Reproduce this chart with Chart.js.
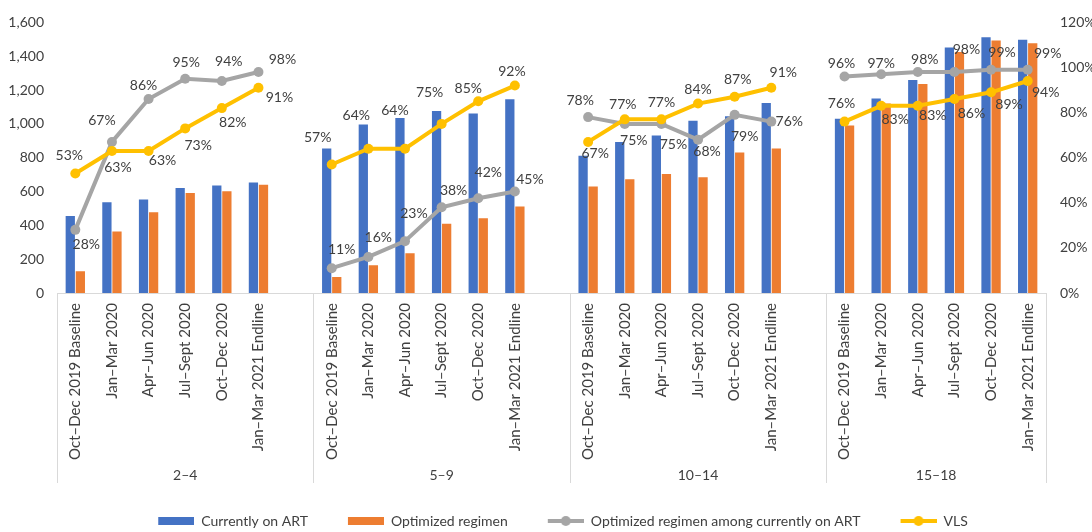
<!DOCTYPE html>
<html><head><meta charset="utf-8">
<script src="https://cdn.jsdelivr.net/npm/chart.js@4/dist/chart.umd.min.js"></script>
<style>html,body{margin:0;padding:0;background:#fff;}#wrap{width:1092px;height:532px;position:relative;}</style>
</head><body><div id="wrap"><canvas id="c"></canvas></div>
<script>
// ---- data ----
const groups = ['2–4', '5–9', '10–14', '15–18'];
const periods = ['Oct–Dec 2019 Baseline', 'Jan–Mar 2020', 'Apr–Jun 2020', 'Jul–Sept 2020', 'Oct–Dec 2020', 'Jan–Mar 2021 Endline'];
const currentlyOnART = [455, 537, 553, 621, 636, 654,  854, 997, 1034, 1076, 1061, 1146,  812, 893, 932, 1018, 1045, 1123,  1030, 1150, 1259, 1452, 1512, 1497];
const optimizedRegimen = [128, 364, 477, 592, 601, 640,  95, 164, 235, 409, 442, 512,  629, 673, 703, 685, 831, 854,  991, 1120, 1236, 1425, 1493, 1477];
const optimizedAmongART = [28, 67, 86, 95, 94, 98,  11, 16, 23, 38, 42, 45,  78, 75, 75, 68, 79, 76,  96, 97, 98, 98, 99, 99];
const vls = [53, 63, 63, 73, 82, 91,  57, 64, 64, 75, 85, 92,  67, 77, 77, 84, 87, 91,  76, 83, 83, 86, 89, 94];
const leftTicks = [0, 200, 400, 600, 800, 1000, 1200, 1400, 1600];
const rightTicks = [0, 20, 40, 60, 80, 100, 120];

// ---- label placement (style, offsets from point in px) ----
const grayLabelOffsets = [[11,15],[-10,-21],[-5,-14],[1,-16],[7,-20],[24,-13], [10,-19],[10,-19],[9,-28],[12,-17],[10,-26],[15,-12], [-8,-17],[9,17],[12,21],[9,12],[10,22],[18,0], [-3,-13],[0,-11],[7,-13],[12,-23],[11,-17],[20,-16]];
const vlsLabelOffsets = [[-6,-18],[6,17],[14,10],[13,17],[11,14],[21,10], [-14,-27],[-12,-33],[-10,-38],[-12,-31],[-10,-13],[-3,-14], [7,12],[-2,-15],[0,-17],[0,-14],[3,-17],[12,-15], [-3,-18],[14,14],[15,10],[17,14],[18,12],[18,11]];

// build category axis with a blank slot after each group (except last)
const labels = [];
function expand(arr) {
  const out = [];
  groups.forEach((g, gi) => {
    periods.forEach((p, pi) => out.push(arr[gi * periods.length + pi]));
    if (gi < groups.length - 1) out.push(null);
  });
  return out;
}
groups.forEach((g, gi) => {
  periods.forEach(p => labels.push(p));
  if (gi < groups.length - 1) labels.push('');
});

const FONT = 'Lato';
const TXT = '#404040';
const C_BLUE = '#4472C4', C_ORANGE = '#ED7D31', C_GRAY = '#A5A5A5', C_YEL = '#FFC000';

function legendImg(kind, color) {
  const W = 70, H = 14;
  const c = document.createElement('canvas');
  c.width = W; c.height = H;
  const g = c.getContext('2d');
  const x0 = W - 36;
  if (kind === 'bar') {
    g.fillStyle = color; g.fillRect(x0, 3, 36, 8);
  } else {
    g.strokeStyle = color; g.lineWidth = 4;
    g.beginPath(); g.moveTo(x0, 7); g.lineTo(W, 7); g.stroke();
    g.fillStyle = color; g.beginPath(); g.arc(x0 + 18, 7, 5, 0, Math.PI * 2); g.fill();
  }
  return c;
}
const legendImgs = [legendImg('bar', C_BLUE), legendImg('bar', C_ORANGE), legendImg('line', C_GRAY), legendImg('line', C_YEL)];

const offsetsByDataset = {2: expand(grayLabelOffsets), 3: expand(vlsLabelOffsets)};

const dataLabelPlugin = {
  id: 'dataLabels',
  afterDatasetsDraw(chart) {
    const ctx = chart.ctx;
    ctx.save();
    ctx.font = '14px ' + FONT;
    ctx.fillStyle = TXT;
    ctx.textAlign = 'center';
    ctx.textBaseline = 'middle';
    [2, 3].forEach(di => {
      const meta = chart.getDatasetMeta(di);
      const ds = chart.data.datasets[di];
      meta.data.forEach((pt, i) => {
        const v = ds.data[i];
        if (v === null || v === undefined) return;
        const off = offsetsByDataset[di][i];
        ctx.fillText(v + '%', pt.x + off[0], pt.y + off[1]);
      });
    });
    ctx.restore();
  }
};

const groupPlugin = {
  id: 'groupAxis',
  afterDraw(chart) {
    const x = chart.scales.x;
    const ctx = chart.ctx;
    const half = (x.getPixelForValue(1) - x.getPixelForValue(0)) / 2;
    const top = chart.chartArea.bottom;
    const bottom = top + 190;
    const per = periods.length + 1;
    const bounds = [];
    groups.forEach((g, gi) => bounds.push(x.getPixelForValue(gi * per) - half));
    bounds.push(x.getPixelForValue(labels.length - 1) + half);
    ctx.save();
    ctx.strokeStyle = '#d9d9d9';
    ctx.lineWidth = 1;
    bounds.forEach(b => {
      const bx = Math.round(b) + 0.5;
      ctx.beginPath(); ctx.moveTo(bx, top); ctx.lineTo(bx, bottom); ctx.stroke();
    });
    ctx.font = '14px ' + FONT;
    ctx.fillStyle = TXT;
    ctx.textAlign = 'center';
    ctx.textBaseline = 'middle';
    groups.forEach((g, gi) => {
      ctx.fillText(g, (bounds[gi] + bounds[gi + 1]) / 2, top + 182);
    });
    ctx.restore();
  }
};

new Chart(document.getElementById('c'), {
  data: {
    labels: labels,
    datasets: [
      {type: 'bar', label: 'Currently on ART', data: expand(currentlyOnART), backgroundColor: C_BLUE, yAxisID: 'y', order: 3, categoryPercentage: 0.55, barPercentage: 0.92},
      {type: 'bar', label: 'Optimized regimen', data: expand(optimizedRegimen), backgroundColor: C_ORANGE, yAxisID: 'y', order: 3, categoryPercentage: 0.55, barPercentage: 0.92},
      {type: 'line', label: 'Optimized regimen among currently on ART', data: expand(optimizedAmongART), borderColor: C_GRAY, backgroundColor: C_GRAY, borderWidth: 4, pointRadius: 5, pointBorderWidth: 0, pointBackgroundColor: C_GRAY, spanGaps: false, tension: 0, yAxisID: 'y1', order: 2},
      {type: 'line', label: 'VLS', data: expand(vls), borderColor: C_YEL, backgroundColor: C_YEL, borderWidth: 4, pointRadius: 5, pointBorderWidth: 0, pointBackgroundColor: C_YEL, spanGaps: false, tension: 0, yAxisID: 'y1', order: 1}
    ]
  },
  options: {
    responsive: true,
    maintainAspectRatio: false,
    animation: false,
    events: [],
    layout: {padding: {top: 20, left: 0, right: 0, bottom: -6}},
    scales: {
      x: {
        type: 'category',
        offset: true,
        grid: {display: false, drawTicks: false},
        border: {display: true, color: '#d9d9d9', width: 1},
        ticks: {autoSkip: false, minRotation: 90, maxRotation: 90, padding: 10, color: TXT, font: {family: FONT, size: 15}},
        afterFit(s) { s.height = 215; }
      },
      y: {
        position: 'left',
        min: 0, max: 1600,
        afterBuildTicks(s) { s.ticks = leftTicks.map(v => ({value: v})); },
        grid: {display: false, drawTicks: false},
        border: {display: false},
        ticks: {padding: 13, color: TXT, font: {family: FONT, size: 14}, callback: v => v.toLocaleString('en-US')},
        afterFit(s) { s.width = 57; }
      },
      y1: {
        position: 'right',
        min: 0, max: 120,
        afterBuildTicks(s) { s.ticks = rightTicks.map(v => ({value: v})); },
        grid: {display: false, drawTicks: false},
        border: {display: false},
        ticks: {padding: 14, color: TXT, font: {family: FONT, size: 14}, callback: v => v + '%'},
        afterFit(s) { s.width = 46; }
      }
    },
    plugins: {
      tooltip: {enabled: false},
      legend: {
        position: 'bottom',
        labels: {
          usePointStyle: true,
          pointStyleWidth: 70,
          boxHeight: 14,
          padding: 6,
          color: TXT,
          font: {family: FONT, size: 14},
          generateLabels(chart) {
            return chart.data.datasets.map((ds, i) => ({
              text: ds.label, pointStyle: legendImgs[i], fillStyle: 'transparent', strokeStyle: 'transparent',
              lineWidth: 0, hidden: false, datasetIndex: i, fontColor: TXT
            }));
          }
        }
      }
    }
  },
  plugins: [dataLabelPlugin, groupPlugin]
});
</script>
</body></html>
